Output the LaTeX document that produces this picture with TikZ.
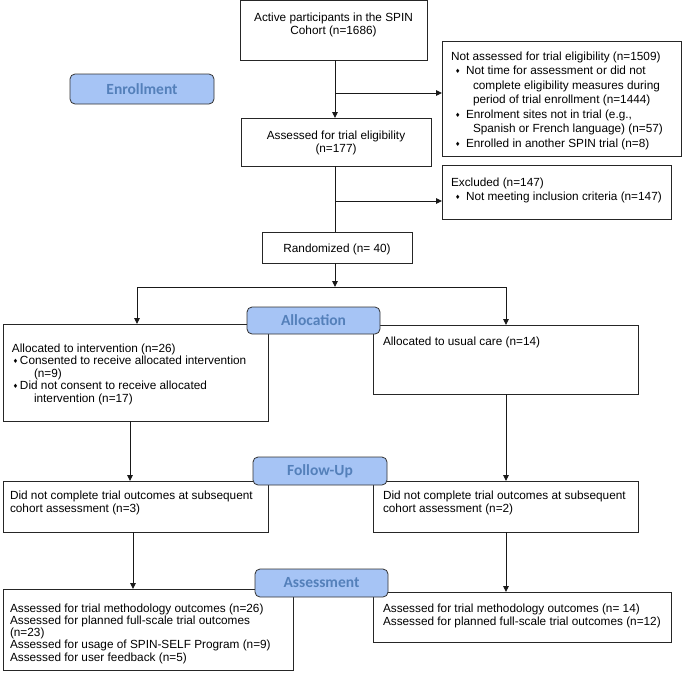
\documentclass[tikz,border=0pt]{standalone}
\usepackage{fontspec}
\setmainfont{Liberation Sans}
\newfontfamily\labfont{Carlito}
\newfontfamily\symfont{DejaVu Sans}
\usetikzlibrary{arrows.meta}
\definecolor{labfill}{RGB}{166,196,245}
\definecolor{labtext}{RGB}{84,128,186}
\newcommand\dia{\raisebox{1pt}{\symfont\fontsize{6}{6}\selectfont ♦}}
\newcommand\bitem[2]{\makebox[#2][l]{\hspace*{#1}\dia}}
\begin{document}
\begin{tikzpicture}[x=1pt,y=-1pt,
  box/.style={draw=black!85, line width=0.9pt, fill=white, inner sep=0pt, outer sep=0pt, anchor=north west},
  lab/.style={draw=black!80, line width=0.8pt, fill=labfill, rounded corners=5pt, inner sep=0pt, outer sep=0pt, anchor=north west, text=labtext, font=\labfont\bfseries\fontsize{15.5}{16}\selectfont},
  txt/.style={inner sep=0pt, outer sep=0pt, anchor=base west},
  conn/.style={line width=0.9pt, draw=black!90},
  arr/.style={conn, -{Triangle[length=6pt,width=5.5pt]}}]
\useasboundingbox (0,0) rectangle (685,678);
\fill[white] (0,0) rectangle (685,678);
% boxes
\node[box, minimum width=187pt, minimum height=59.5pt] (top) at (240,0.5) {};
\node[box, minimum width=239pt, minimum height=115pt] (notass) at (442,41) {};
\node[box, minimum width=190pt, minimum height=48pt] (assessed) at (241,118) {};
\node[box, minimum width=229pt, minimum height=54pt] (excluded) at (442,165) {};
\node[box, minimum width=150pt, minimum height=31pt] (rand) at (262,232) {};
\node[box, minimum width=265pt, minimum height=97pt] (interv) at (3,324) {};
\node[box, minimum width=265pt, minimum height=69pt] (usual) at (373,325) {};
\node[box, minimum width=265pt, minimum height=51pt] (fuone) at (3,481) {};
\node[box, minimum width=265pt, minimum height=51pt] (futwo) at (373,481) {};
\node[box, minimum width=290pt, minimum height=81pt] (asone) at (3,589) {};
\node[box, minimum width=298pt, minimum height=50pt] (astwo) at (373,592) {};
% texts
\node[txt, anchor=base, font=\fontsize{11.8}{13}\selectfont] (topT) at (333.5,21)
  {\begin{tabular}[t]{@{}c@{}}Active participants in the SPIN\\Cohort (n=1686)\end{tabular}};
\node[txt, font=\fontsize{11.8}{14.5}\selectfont] (notassT) at (451,60)
  {\begin{tabular}[t]{@{}l@{}}Not assessed for trial eligibility (n=1509)\\
  \bitem{4pt}{15pt}Not time for assessment or did not\\
  \hspace*{22pt}complete eligibility measures during\\
  \hspace*{22pt}period of trial enrollment (n=1444)\\
  \bitem{4pt}{15pt}Enrolment sites not in trial (e.g.,\\
  \hspace*{22pt}Spanish or French language) (n=57)\\
  \bitem{4pt}{15pt}Enrolled in another SPIN trial (n=8)\end{tabular}};
\node[txt, anchor=base, font=\fontsize{11.8}{13}\selectfont] (assessedT) at (336,139)
  {\begin{tabular}[t]{@{}c@{}}Assessed for trial eligibility\\(n=177)\end{tabular}};
\node[txt, font=\fontsize{11.8}{14}\selectfont] (excludedT) at (451,186)
  {\begin{tabular}[t]{@{}l@{}}Excluded (n=147)\\
  \bitem{4pt}{15pt}Not meeting inclusion criteria (n=147)\end{tabular}};
\node[txt, anchor=base, font=\fontsize{11.8}{13}\selectfont] (randT) at (337,252) {Randomized (n= 40)};
\node[txt, font=\fontsize{11.8}{12.5}\selectfont] (intervT) at (12,352)
  {\begin{tabular}[t]{@{}l@{}}Allocated to intervention (n=26)\\
  \bitem{1pt}{8pt}Consented to receive allocated intervention\\
  \hspace*{22pt}(n=9)\\
  \bitem{1pt}{8pt}Did not consent to receive allocated\\
  \hspace*{22pt}intervention (n=17)\end{tabular}};
\node[txt, font=\fontsize{11.8}{13}\selectfont] (usualT) at (383,345) {Allocated to usual care (n=14)};
\node[txt, font=\fontsize{11.8}{13}\selectfont] (fuoneT) at (10,499)
  {\begin{tabular}[t]{@{}l@{}}Did not complete trial outcomes at subsequent\\cohort assessment (n=3)\end{tabular}};
\node[txt, font=\fontsize{11.8}{13}\selectfont] (futwoT) at (383,499)
  {\begin{tabular}[t]{@{}l@{}}Did not complete trial outcomes at subsequent\\cohort assessment (n=2)\end{tabular}};
\node[txt, font=\fontsize{11.8}{12.3}\selectfont] (asoneT) at (10,612)
  {\begin{tabular}[t]{@{}l@{}}Assessed for trial methodology outcomes (n=26)\\
  Assessed for planned full-scale trial outcomes\\
  (n=23)\\
  Assessed for usage of SPIN-SELF Program (n=9)\\
  Assessed for user feedback (n=5)\end{tabular}};
\node[txt, font=\fontsize{11.8}{13}\selectfont] (astwoT) at (383,612)
  {\begin{tabular}[t]{@{}l@{}}Assessed for trial methodology outcomes (n= 14)\\
  Assessed for planned full-scale trial outcomes (n=12)\end{tabular}};
% connectors
\coordinate (jone) at (335,93);
\coordinate (jtwo) at (335,201);
\coordinate (jthree) at (335,287);
\coordinate (bl) at (137,287);
\coordinate (br) at (506,287);
\coordinate (cl) at (130,0);
\coordinate (dl) at (133,0);
\coordinate (cr) at (506,0);
\draw[arr] (top.south -| jone) -- (assessed.north -| jone);
\draw[arr] (jone) -- (jone -| notass.west);
\draw[conn] (assessed.south -| jtwo) -- (rand.north -| jtwo);
\draw[arr] (jtwo) -- (jtwo -| excluded.west);
\draw[conn] (bl) -- (br);
\draw[arr] (rand.south -| jthree) -- (jthree);
\draw[arr] (bl) -- (bl |- interv.north);
\draw[arr] (br) -- (br |- usual.north);
\draw[arr] (interv.south -| cl) -- (fuone.north -| cl);
\draw[arr] (usual.south -| cr) -- (futwo.north -| cr);
\draw[arr] (fuone.south -| dl) -- (asone.north -| dl);
\draw[arr] (futwo.south -| cr) -- (astwo.north -| cr);
% stage labels
\node[lab, minimum width=144pt, minimum height=30pt] (enroll) at (70,74) {Enrollment};
\node[lab, minimum width=133pt, minimum height=27pt] (alloc) at (247,307) {Allocation};
\node[lab, minimum width=134pt, minimum height=28pt] (follow) at (253,457) {Follow-Up};
\node[lab, minimum width=133pt, minimum height=28pt] (assess) at (255,569) {Assessment};
\end{tikzpicture}
\end{document}
